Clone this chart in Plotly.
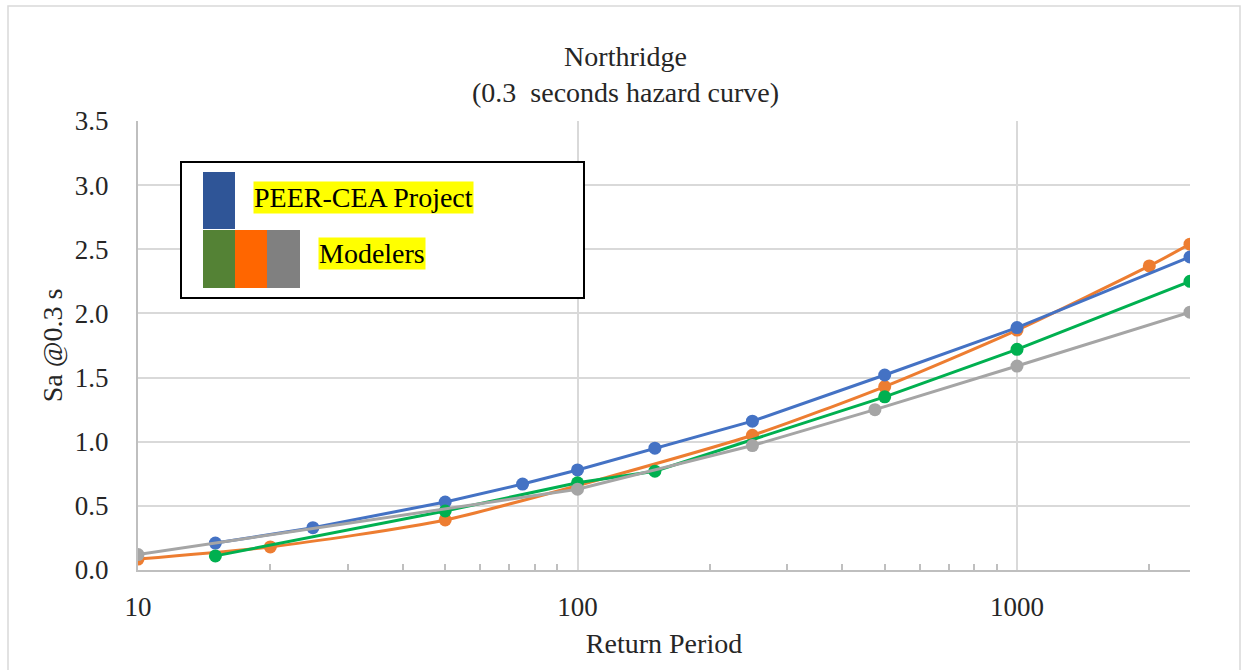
import plotly.graph_objects as go

# Return periods (years) and spectral accelerations Sa @ 0.3 s (g)
peer_rp = [15, 25, 50, 75, 100, 150, 250, 500, 1000, 2475]
peer_sa = [0.21, 0.33, 0.53, 0.67, 0.78, 0.95, 1.16, 1.52, 1.89, 2.44]

mod_a_rp = [10, 20, 50, 250, 500, 1000, 2000, 2475]
mod_a_sa = [0.085, 0.18, 0.39, 1.05, 1.43, 1.87, 2.37, 2.54]

mod_b_rp = [15, 50, 100, 150, 500, 1000, 2475]
mod_b_sa = [0.11, 0.46, 0.68, 0.77, 1.35, 1.72, 2.25]

mod_c_rp = [10, 100, 250, 475, 1000, 2475]
mod_c_sa = [0.12, 0.63, 0.97, 1.25, 1.59, 2.01]

x_ticks = [10, 100, 1000]
x_minor = [20, 30, 40, 50, 60, 70, 80, 90, 200, 300, 400, 500, 600, 700, 800, 900, 2000]
y_ticks = [0.0, 0.5, 1.0, 1.5, 2.0, 2.5, 3.0, 3.5]

FONT = "Liberation Serif, Times New Roman, serif"
TXT = "#262626"

fig = go.Figure()

def add_series(xs, ys, color, shape):
    fig.add_trace(go.Scatter(
        x=xs, y=ys, mode="lines+markers",
        line=dict(color=color, width=3, shape=shape, smoothing=0.6),
        marker=dict(color=color, size=13),
        showlegend=False, hoverinfo="x+y",
    ))

add_series(mod_a_rp, mod_a_sa, "#ED7D31", "spline")
add_series(peer_rp, peer_sa, "#4472C4", "linear")
add_series(mod_b_rp, mod_b_sa, "#00B050", "linear")
add_series(mod_c_rp, mod_c_sa, "#A5A5A5", "linear")

L, R, T, B = 138, 1190, 121, 570
W, H = R - L, B - T

def px(x):
    return (x - L) / W

def py(y):
    return (B - y) / H

shapes = [
    # chart area border
    dict(type="rect", xref="paper", yref="paper",
         x0=px(8), x1=px(1240), y0=py(672), y1=py(6),
         line=dict(color="#D9D9D9", width=1.5), layer="below"),
    # legend panel
    dict(type="rect", xref="paper", yref="paper",
         x0=px(181), x1=px(584), y0=py(298), y1=py(162),
         line=dict(color="black", width=2), fillcolor="white"),
    dict(type="rect", xref="paper", yref="paper",
         x0=px(203), x1=px(235), y0=py(229), y1=py(172),
         line=dict(width=0), fillcolor="#2F5597"),
    dict(type="rect", xref="paper", yref="paper",
         x0=px(203), x1=px(235), y0=py(288), y1=py(230),
         line=dict(width=0), fillcolor="#548235"),
    dict(type="rect", xref="paper", yref="paper",
         x0=px(235), x1=px(267), y0=py(288), y1=py(230),
         line=dict(width=0), fillcolor="#FF6600"),
    dict(type="rect", xref="paper", yref="paper",
         x0=px(267), x1=px(300), y0=py(288), y1=py(230),
         line=dict(width=0), fillcolor="#808080"),
]

annotations = [
    dict(text="PEER-CEA Project", xref="paper", yref="paper",
         x=px(253), y=py(198), xanchor="left", yanchor="middle",
         showarrow=False, bgcolor="#FFFF00", borderpad=0,
         font=dict(family=FONT, size=28, color="black")),
    dict(text="Modelers", xref="paper", yref="paper",
         x=px(318), y=py(254), xanchor="left", yanchor="middle",
         showarrow=False, bgcolor="#FFFF00", borderpad=0,
         font=dict(family=FONT, size=28, color="black")),
    dict(text="Northridge<br>(0.3  seconds hazard curve)", xref="paper", yref="paper",
         x=px(625), y=py(74), xanchor="center", yanchor="middle",
         showarrow=False, align="center",
         font=dict(family=FONT, size=28, color=TXT)),
]

fig.update_layout(
    width=1247, height=670,
    margin=dict(l=L, r=1247 - R, t=T, b=670 - B),
    paper_bgcolor="white", plot_bgcolor="white",
    font=dict(family=FONT, color=TXT),
    shapes=shapes, annotations=annotations,
    xaxis=dict(
        type="log", range=[1, 3.3936],
        tickvals=x_ticks, ticktext=[str(v) for v in x_ticks],
        tickfont=dict(family=FONT, size=27, color=TXT),
        ticks="inside", ticklen=0, ticklabelstandoff=12,
        showgrid=True, gridcolor="#D9D9D9", gridwidth=2,
        showline=True, linecolor="#BFBFBF", linewidth=2,
        zeroline=False,
        minor=dict(tickvals=x_minor, ticks="inside", ticklen=6,
                   tickcolor="#BFBFBF", tickwidth=1.5, showgrid=False),
        title=dict(text="Return Period", standoff=12,
                   font=dict(family=FONT, size=28, color=TXT)),
    ),
    yaxis=dict(
        range=[0, 3.5], tickvals=y_ticks,
        ticktext=[f"{v:.1f}" for v in y_ticks],
        tickfont=dict(family=FONT, size=27, color=TXT),
        ticks="", ticklabelstandoff=22,
        showgrid=True, gridcolor="#D9D9D9", gridwidth=2,
        showline=True, linecolor="#BFBFBF", linewidth=2,
        zeroline=False,
        title=dict(text="Sa @0.3 s", standoff=4,
                   font=dict(family=FONT, size=28, color=TXT)),
    ),
)

fig.write_html("out.html")
